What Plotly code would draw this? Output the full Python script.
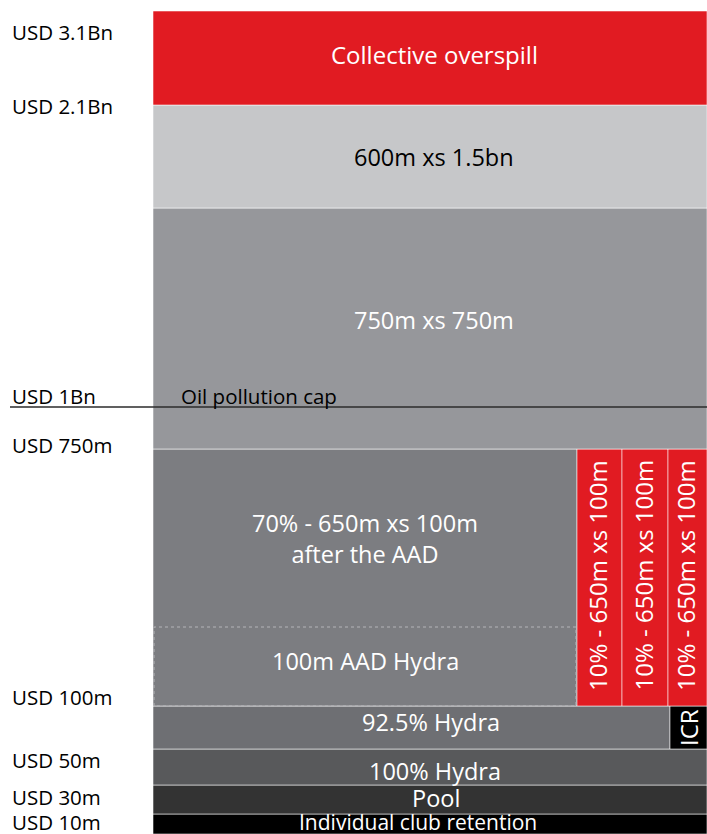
import numpy as np
import plotly.graph_objects as go

# ---------------- data ----------------
layer_names = [
    "Individual club retention", "Pool", "100% Hydra", "92.5% Hydra", "ICR",
    "70% - 650m xs 100m<br>after the AAD",
    "10% - 650m xs 100m", "10% - 650m xs 100m", "10% - 650m xs 100m",
    "750m xs 750m", "600m xs 1.5bn", "Collective overspill",
]
layer_attach = [0, 10, 30, 50, 50, 100, 100, 100, 100, 750, 1500, 2100]      # USD m
layer_exhaust = [10, 30, 50, 100, 100, 750, 750, 750, 750, 1500, 2100, 3100]  # USD m
share_from = [0, 0, 0, 0, 92.5, 0, 70, 80, 90, 0, 0, 0]                     # % participation
share_to = [100, 100, 100, 92.5, 100, 70, 80, 90, 100, 100, 100, 100]

aad_attach, aad_exhaust = 100, 200
aad_share = [0, 70]
aad_label = "100m AAD Hydra"

oil_cap = 1000
oil_label = "Oil pollution cap"

tick_values = [3100, 2100, 1000, 750, 100, 50, 30, 10]
tick_labels = ["USD 3.1Bn", "USD 2.1Bn", "USD 1Bn", "USD 750m",
               "USD 100m", "USD 50m", "USD 30m", "USD 10m"]

# ---------------- schematic (non-linear) scales ----------------
scale_usd = [0, 10, 30, 50, 100, 200, 750, 1000, 1500, 2100, 3100]
scale_pos = [0, 20, 49, 85, 128, 207, 385, 427, 626, 729, 823]
share_bp = [0, 70, 80, 90, 92.5, 100]
share_pos = [0, 424, 469, 515, 517, 554]


def ys(v):
    return np.interp(v, scale_usd, scale_pos)


def xs(v):
    return np.interp(v, share_bp, share_pos)


# ---------------- styles ----------------
RED = "#E11B22"
layer_colors = ["#000000", "#333333", "#58595B", "#6E6F73", "#000000",
                "#7C7D81", RED, RED, RED, "#96979B", "#C6C7C9", RED]
text_colors = ["white"] * 10 + ["black", "white"]
text_angle = [0, 0, 0, 0, -90, 0, -90, -90, -90, 0, 0, 0]
text_size = [21, 23.5, 23.5, 23.5, 24, 23.5, 24, 24, 24, 23.5, 23.5, 24]
# label offsets in px (dx right, dy down) relative to the visual centre of the box
label_dx = [-12, 6, 5, 19, 0, 0, -2, -2, -2, 4, 4, 4]
label_dy = [-2, -2, 4, -6, 0, 0, -2, -2, -2, -9, 0, -4]
tick_dy = [21, 1, -11, -4, -9, 11, 12, 8]
FONT = "Open Sans"

x0 = xs(share_from)
x1 = xs(share_to)
y0 = ys(layer_attach)
y1 = ys(layer_exhaust)

fig = go.Figure()
fig.add_trace(go.Bar(
    x=(x0 + x1) / 2, width=x1 - x0, base=y0, y=y1 - y0,
    marker=dict(color=layer_colors, line=dict(color="rgba(255,255,255,0.55)", width=1)),
    hoverinfo="skip", showlegend=False,
))

# dotted outline of the AAD box
ax0, ax1 = xs(aad_share)
ay0, ay1 = ys([aad_attach, aad_exhaust])
fig.add_trace(go.Scatter(
    x=[ax0 + 1, ax0 + 1, ax1 - 1, ax1 - 1, ax0 + 1], y=[ay0, ay1, ay1, ay0, ay0],
    mode="lines", line=dict(color="#B4B5B8", width=1, dash="dot"),
    hoverinfo="skip", showlegend=False,
))

annotations = []
for i, name in enumerate(layer_names):
    if i == 5:
        cy = (ys(aad_exhaust) + y1[i]) / 2
    else:
        cy = (y0[i] + y1[i]) / 2
    annotations.append(dict(
        x=(x0[i] + x1[i]) / 2, y=cy, text=name, showarrow=False,
        xshift=label_dx[i], yshift=-label_dy[i], textangle=text_angle[i],
        font=dict(family=FONT, size=text_size[i], color=text_colors[i]),
        xanchor="center", yanchor="middle",
    ))

annotations.append(dict(
    x=(ax0 + ax1) / 2, y=(ay0 + ay1) / 2, text=aad_label, showarrow=False,
    yshift=6, font=dict(family=FONT, size=23.5, color="white"),
))

# oil pollution cap line + label
oy = float(ys(oil_cap))
fig.add_shape(type="line", x0=-143, x1=554, y0=oy, y1=oy, xref="x", yref="y",
              line=dict(color="#2B2B2B", width=1.5))
annotations.append(dict(
    x=26, y=oy, text=oil_label, showarrow=False, xanchor="left", yanchor="middle",
    yshift=11, font=dict(family=FONT, size=20.5, color="black"),
))

# axis labels (USD levels)
for v, lab, dy in zip(tick_values, tick_labels, tick_dy):
    annotations.append(dict(
        x=-143, y=float(ys(v)), text=lab, showarrow=False, xanchor="left",
        yanchor="middle", yshift=-dy, font=dict(family=FONT, size=20.5, color="black"),
    ))

fig.update_layout(
    width=707, height=834, margin=dict(l=0, r=0, t=0, b=0),
    paper_bgcolor="white", plot_bgcolor="white",
    barmode="overlay", annotations=annotations,
    xaxis=dict(range=[-153, 554], visible=False, fixedrange=True),
    yaxis=dict(range=[0, 834], visible=False, fixedrange=True),
)

fig.write_html(
    "out.html",
    config={"displayModeBar": False},
    post_script="document.body.style.margin='0';document.body.style.overflow='hidden';",
)
